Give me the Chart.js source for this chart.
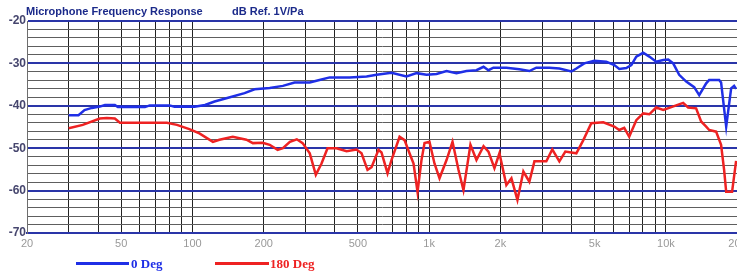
<!DOCTYPE html>
<html>
<head>
<meta charset="utf-8">
<script src="https://cdn.jsdelivr.net/npm/chart.js@4.4.0/dist/chart.umd.min.js"></script>
<style>
  html, body { margin: 0; padding: 0; background: #fff; overflow: hidden; }
  #wrap { position: relative; width: 750px; height: 274px; }
  #myChart { position: absolute; left: 0; top: 0; }
  .ttl { position: absolute; top: 5px; font: bold 11px "Liberation Sans", Arial, sans-serif; color: #1b2a8a; white-space: nowrap; }
  .key { position: absolute; height: 3px; top: 262px; }
  .keytxt { position: absolute; top: 256px; font: bold 13px "Liberation Serif", "Times New Roman", serif; white-space: nowrap; }
</style>
</head>
<body>
<div id="wrap">
  <canvas id="myChart" width="750" height="274"></canvas>
  <div class="ttl" style="left:26px">Microphone Frequency Response</div>
  <div class="ttl" style="left:232px">dB Ref. 1V/Pa</div>
  <div class="key" style="left:76px;width:53px;background:#1f2fe6"></div>
  <div class="keytxt" style="left:131px;color:#1f2fe6">0 Deg</div>
  <div class="key" style="left:215px;width:54px;background:#ee2222"></div>
  <div class="keytxt" style="left:270px;color:#ee2222">180 Deg</div>
</div>
<script>
// setup
const seriesNames = ['0 Deg', '180 Deg'];

const freq0 = [30, 33, 35, 37.6, 40.6, 42.7, 47, 48.4, 52, 63, 66, 80, 84, 97, 102, 113, 124, 144, 166, 183,
  212, 241, 270, 313, 344, 380, 461, 544, 600, 693, 802, 885, 975, 1074, 1184, 1304, 1438, 1584, 1697, 1780,
  1868, 2119, 2405, 2650, 2836, 3220, 3548, 3989, 4186, 4520, 4986, 5600, 6055, 6356, 6804, 7145, 7500, 8020,
  8512, 9100, 9750, 10232, 10740, 11380, 12190, 13170, 13830, 14800, 15240, 16790, 17110, 17980, 18870, 19420, 19800];
const db0 = [-42.2, -42.2, -41, -40.5, -40.2, -39.8, -39.8, -40.3, -40.3, -40.3, -39.9, -39.9, -40.2, -40.2, -40.2, -39.8, -39, -38, -37, -36.1,
  -35.8, -35.3, -34.5, -34.5, -33.9, -33.3, -33.3, -33.1, -32.7, -32.2, -33.1, -32.3, -32.7, -32.5, -31.8, -32.3, -31.8, -31.6, -30.8, -31.6,
  -31, -31, -31.4, -31.8, -31, -31, -31.2, -31.9, -31.2, -30, -29.4, -29.6, -30.4, -31.3, -31.1, -30.4, -28.4, -27.5,
  -28.4, -29.6, -29.2, -29.1, -30, -32.7, -34.3, -35.6, -37.5, -34.7, -33.9, -33.9, -34.5, -44.9, -35.9, -35.3, -36];

const freq180 = [30, 34.4, 40.6, 43.5, 47, 49.4, 78, 86, 97, 107, 122, 130, 148, 169, 180, 198, 212, 229, 241, 258,
  276, 292, 313, 332, 351, 372, 406, 448, 493, 518, 549, 571, 611, 629, 667, 693, 750, 787, 826, 859,
  893, 928, 956, 1003, 1053, 1106, 1184, 1255, 1330, 1396, 1494, 1584, 1697, 1780, 1887, 1981, 2119, 2226, 2360, 2500,
  2650, 2784, 3126, 3312, 3548, 3760, 4186, 4480, 4840, 5440, 6055, 6356, 6670, 7000, 7500, 8020, 8512, 9100, 9750, 10330,
  11830, 12420, 13420, 14090, 14800, 15240, 16300, 17110, 17620, 17980, 19040, 19800];
const db180 = [-45.3, -44.5, -43, -42.9, -43, -44, -44, -44.5, -45.5, -46.5, -48.5, -48, -47.3, -48, -48.8, -48.7, -49.2, -50.4, -50, -48.5,
  -47.9, -48.8, -51.2, -56.3, -53.6, -50, -50, -50.7, -50.3, -51.2, -55.1, -54.5, -50.4, -51, -55.9, -52.8, -47.3, -48.1, -51.2, -53.6,
  -60.3, -52.8, -48.8, -48.5, -53.6, -57.1, -52.8, -48.5, -55.1, -59.9, -49.2, -52.8, -49.5, -50.8, -54.7, -51.2, -58.7, -57.1, -62.2, -55.5,
  -57.9, -53.1, -53.1, -50.3, -53.1, -50.8, -51.2, -48.1, -44.1, -43.9, -44.9, -45.7, -45.2, -47.3, -43.4, -41.8, -42, -40.4, -41, -40.5,
  -39.3, -40.4, -40.6, -43.7, -44.9, -45.7, -46.1, -49.2, -55.1, -60.3, -60.3, -53];

const gridFreqs = [20, 30, 40, 50, 60, 70, 80, 90, 100, 200, 300, 400, 500, 600, 700, 800, 900,
  1000, 2000, 3000, 4000, 5000, 6000, 7000, 8000, 9000, 10000, 20000];
const freqLabels = {20: '20', 50: '50', 100: '100', 200: '200', 500: '500', 1000: '1k', 2000: '2k',
  5000: '5k', 10000: '10k', 20000: '20k'};

const toPoints = (xs, ys) => xs.map((x, i) => ({x: x, y: ys[i]}));

const data = {
  datasets: [{
    label: seriesNames[0],
    data: toPoints(freq0, db0),
    borderColor: '#1f2fe6',
    borderWidth: 2.5,
    pointRadius: 0,
  }, {
    label: seriesNames[1],
    data: toPoints(freq180, db180),
    borderColor: '#ee2222',
    borderWidth: 2.5,
    pointRadius: 0,
  }]
};

// config
const config = {
  type: 'line',
  data,
  options: {
    responsive: false,
    animation: false,
    devicePixelRatio: 1,
    layout: { padding: { top: 21, right: 12, bottom: 0, left: 0 } },
    scales: {
      x: {
        type: 'logarithmic',
        min: 20,
        max: 20000,
        afterBuildTicks: (scale) => { scale.ticks = gridFreqs.map(v => ({value: v})); },
        afterFit: (scale) => { scale.height = 41; },
        ticks: {
          autoSkip: false,
          maxRotation: 0,
          padding: 4,
          color: '#999999',
          font: { family: 'Liberation Sans', size: 11 },
          callback: (v) => freqLabels[v] || ''
        },
        grid: {
          drawTicks: false,
          color: '#222222',
          lineWidth: 1
        },
        border: { color: '#2a35a8', width: 2 }
      },
      y: {
        min: -70,
        max: -20,
        afterFit: (scale) => { scale.width = 27; },
        ticks: {
          stepSize: 2,
          autoSkip: false,
          padding: 1,
          color: '#46466e',
          font: { family: 'Liberation Sans', size: 12, weight: 'bold' },
          callback: (v) => (v % 10 === 0 ? String(v) : '')
        },
        grid: {
          drawTicks: false,
          color: (ctx) => (ctx.tick && ctx.tick.value % 10 === 0 ? '#2a35a8' : '#5e5e5e'),
          lineWidth: (ctx) => (ctx.tick && ctx.tick.value % 10 === 0 ? 2 : 1)
        },
        border: { color: '#6e6e6e', width: 1 }
      }
    },
    plugins: {
      legend: { display: false },
      tooltip: { enabled: false }
    }
  }
};

// render init block
const myChart = new Chart(
  document.getElementById('myChart'),
  config
);
</script>
</body>
</html>
